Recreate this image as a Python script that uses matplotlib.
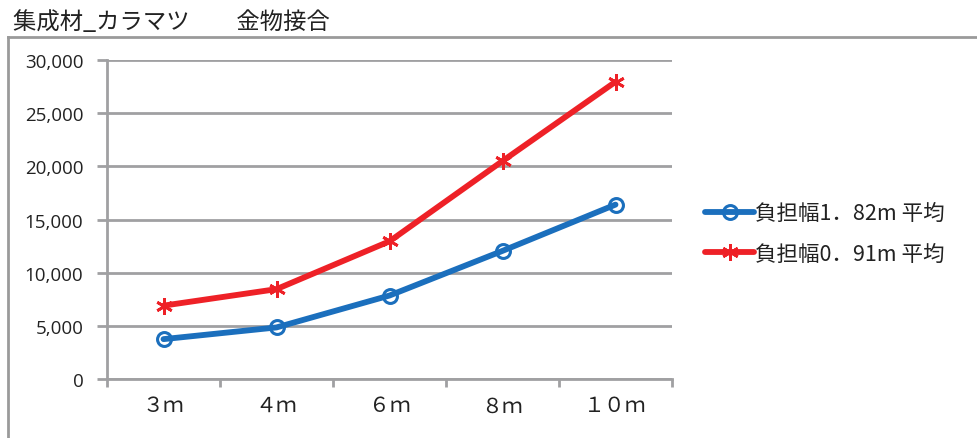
import matplotlib
matplotlib.use("Agg")
import matplotlib.pyplot as plt
from matplotlib.lines import Line2D
from matplotlib.ticker import FuncFormatter, FixedLocator, NullFormatter

plt.rcParams['font.family'] = ['Noto Sans CJK JP', 'DejaVu Sans']

# Data
spans = ['３ｍ', '４ｍ', '６ｍ', '８ｍ', '１０ｍ']
width_182 = [3750, 4850, 7850, 12050, 16400]
width_091 = [6900, 8450, 12950, 20500, 27950]
series_labels = ['負担幅1．82m 平均', '負担幅0．91m 平均']
title_text = '集成材_カラマツ　　金物接合'

BLUE = '#1b6fbd'
RED = '#ee2127'
GRID = '#a0a0a2'
TEXT = '#222222'

W, H = 978, 439
fig = plt.figure(figsize=(W / 100, H / 100), dpi=100)
ax = fig.add_axes([107/W, 1 - 380/H, (672 - 107)/W, (380 - 61)/H])

x = list(range(len(spans)))
ax.plot(x, width_182, color=BLUE, lw=4.2, marker='o', ms=10, mfc='none',
        mec=BLUE, mew=2.2, label=series_labels[0], zorder=3, solid_capstyle='round')
ax.plot(x, width_091, color=RED, lw=4.2, marker=(6, 2, 0), ms=12,
        mec=RED, mew=2.0, label=series_labels[1], zorder=3, solid_capstyle='round')

ax.set_xlim(-0.5, len(spans) - 0.5)
ax.set_ylim(0, 30000)
ax.set_yticks(range(0, 30001, 5000))
ax.yaxis.set_major_formatter(FuncFormatter(lambda v, p: f'{int(v):,}'))
ax.grid(axis='y', color=GRID, lw=2.0)
ax.set_axisbelow(True)

# category labels centred, tick marks between categories
ax.set_xticks(x)
ax.set_xticklabels(spans, fontsize=15, color=TEXT)
ax.tick_params(axis='x', which='major', length=0, pad=11)
ax.xaxis.set_minor_locator(FixedLocator([i - 0.5 for i in range(len(spans) + 1)]))
ax.xaxis.set_minor_formatter(NullFormatter())
ax.tick_params(axis='x', which='minor', length=6, width=2, color=GRID, direction='out')
ax.tick_params(axis='y', length=7, width=2, color=GRID, direction='out', pad=10)
for lbl in ax.get_yticklabels():
    lbl.set_fontfamily(['Open Sans', 'DejaVu Sans'])
    lbl.set_fontsize(13.5)
    lbl.set_color(TEXT)

for s in ['top', 'right']:
    ax.spines[s].set_visible(False)
for s in ['left', 'bottom']:
    ax.spines[s].set_color(GRID)
    ax.spines[s].set_linewidth(2)

leg = ax.legend(loc='center left', bbox_to_anchor=(694/W, 1 - 234.5/H),
                bbox_transform=fig.transFigure, frameon=False, borderpad=0,
                fontsize=15.5, handlelength=2.3, handletextpad=0.05,
                labelspacing=0.85, labelcolor=TEXT)

# outer chart frame (left and top edges)
fig.add_artist(Line2D([8/W, 8/W], [0, 1 - 38/H], transform=fig.transFigure,
                      color='#9a9a9a', lw=2))
fig.add_artist(Line2D([8/W, 1], [1 - 38/H, 1 - 38/H], transform=fig.transFigure,
                      color='#9a9a9a', lw=2))

fig.text(13/W, 1 - 22/H, title_text, fontsize=16.8, color=TEXT, va='center', ha='left')

fig.savefig('out.png', dpi=100)
